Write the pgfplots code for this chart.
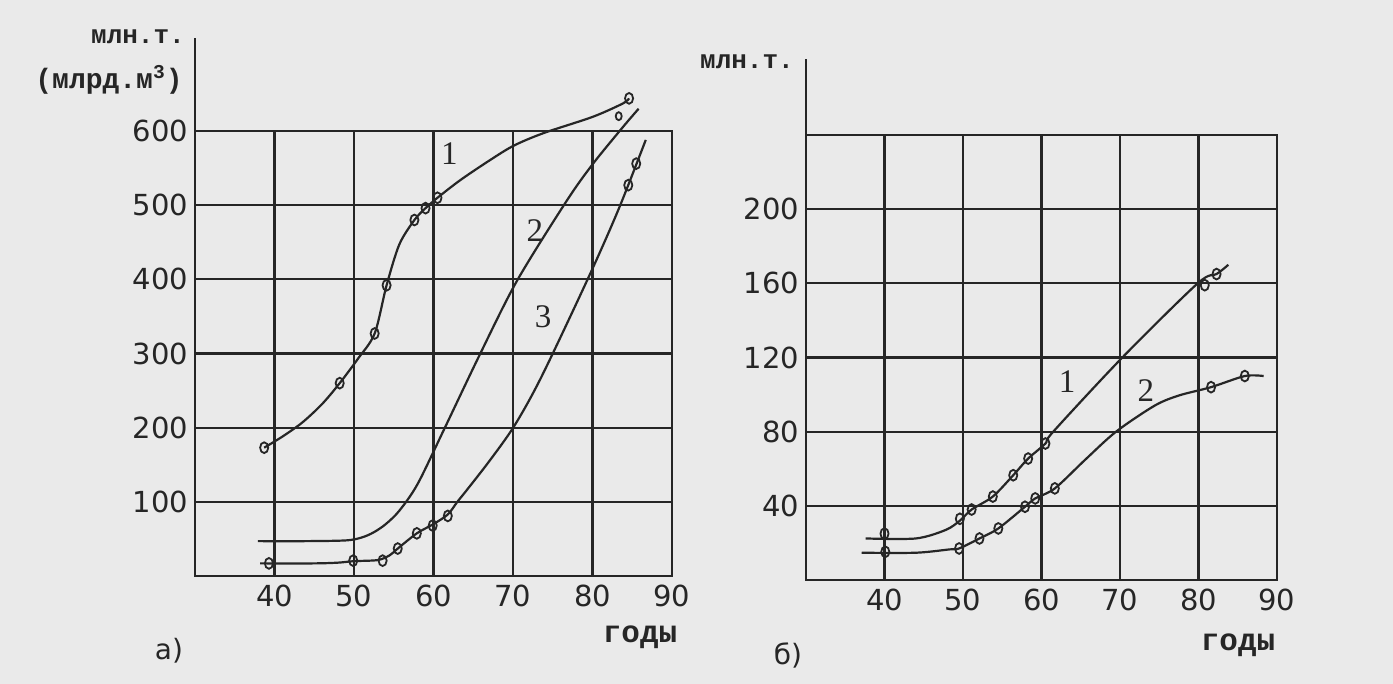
\documentclass[border=0pt]{standalone}
\usepackage{fontspec}
\setmainfont{Liberation Serif}
\newfontfamily\monofam{Liberation Mono}
\newfontfamily\dvfam{DejaVu Sans}
\usepackage{pgfplots}
\pgfplotsset{compat=1.18}
\definecolor{paper}{HTML}{EAEAEA}
\definecolor{ink}{HTML}{262626}
\pgfplotsset{
  chart/.style={
    scale only axis, anchor=south west, clip=false,
    xmin=30, xmax=90, xtick={40,50,60,70,80,90},
    grid=major, major grid style={line width=1.1pt, ink},
    axis line style={line width=1.1pt, ink},
    major tick length=0pt,
    /pgf/number format/assume math mode=true,
    ticklabel style={font=\dvfam\fontsize{14.5}{16}\selectfont, text=ink},
    xticklabel style={yshift=-1pt},
  },
  crv/.style={line width=1.1pt, ink, smooth, tension=0.5, no marks},
  mk/.style={only marks, mark=o, mark size=2.7pt, mark options={line width=0.9pt, ink, fill=paper, xscale=0.75}},
}
\tikzset{lbl/.style={font=\fontsize{16.5}{18}\selectfont, text=ink}}
\begin{document}
\begin{tikzpicture}
\fill[paper] (0,0) rectangle (696.5pt,342pt);
\path[use as bounding box] (0,0) rectangle (696.5pt,342pt);
% ---------------- left chart a)
\begin{axis}[chart, at={(97.5pt,54pt)}, width=238.5pt, height=222.5pt,
  ymin=0, ymax=600, ytick={100,200,300,400,500,600}]
\draw[line width=1.1pt, ink] (axis cs:30,600) -- (axis cs:30,725);
% curve 1
\addplot[crv] coordinates {(38.7,173) (41,188) (43.5,207) (46,232) (48.2,260) (50.5,293) (52.6,327) (54.1,392) (55.7,447) (57.6,480) (59.0,496) (60.5,510) (63.4,534) (67,560) (70.05,580) (73.8,597) (80,619) (83.8,637) (84.6,644)};
\addplot[mk] coordinates {(38.7,173) (48.2,260) (52.6,327) (54.1,392) (57.6,480) (59.0,496) (60.5,510) (84.6,644)};
% curve 2
\addplot[crv] coordinates {(37.9,47) (44,47) (49,48) (51,52) (52.5,59) (54,70) (55.7,88) (58,124) (61.3,197) (65.8,298) (70.5,398) (76.7,505) (80,555) (83.8,605) (85.8,630)};
\addplot[mk, mark size=2pt] coordinates {(83.3,620)};
% curve 3
\addplot[crv] coordinates {(38.2,17) (45,17) (48,18) (50,20) (53,21.5) (54.5,28) (55.5,37) (57.9,57.5) (60,70) (61.8,83) (63,100) (64.2,116) (67.1,156) (70.2,203) (73.6,269) (79.6,405) (83.3,495) (86.7,588)};
\addplot[mk] coordinates {(39.3,17) (49.9,20.7) (53.6,20.7) (55.5,37) (57.9,57.5) (59.9,68) (61.8,81) (84.5,527) (85.5,556)};
\node[lbl] at (axis cs:62,570) {1};
\node[lbl] at (axis cs:72.75,466) {2};
\node[lbl] at (axis cs:73.8,350) {3};
\end{axis}
% ---------------- right chart б)
\begin{axis}[chart, at={(403pt,52pt)}, width=235.5pt, height=222.5pt,
  ymin=0, ymax=240, ytick={40,80,120,160,200}]
\draw[line width=1.1pt, ink] (axis cs:30,240) -- (axis cs:30,281);
% curve 1
\addplot[crv] coordinates {(37.6,22.4) (44,22.4) (47.8,27) (49.6,32) (51.1,38) (53.8,45) (56.4,56.5) (58.3,65.5) (60.5,73.6) (61.5,80) (70.3,120) (79.9,160) (82.3,165) (83.8,170)};
\addplot[mk] coordinates {(40,25) (49.6,33) (51.1,38) (53.8,45) (56.4,56.5) (58.3,65.5) (60.5,73.6) (80.8,159) (82.3,165)};
% curve 2
\addplot[crv] coordinates {(37.1,14.7) (44,14.7) (48.3,16.5) (49.5,17) (52.1,22.4) (54.5,27.8) (57.9,39.5) (59.2,44) (61.7,49.4) (65.6,65) (69.5,80) (74.4,94) (77.5,99.5) (81.6,104) (85.9,110) (88.3,110)};
\addplot[mk] coordinates {(40.1,15.2) (49.5,17) (52.1,22.4) (54.5,27.8) (57.9,39.5) (59.2,44) (61.7,49.4) (81.6,104) (85.9,110)};
\node[lbl] at (axis cs:63.25,107) {1};
\node[lbl] at (axis cs:73.3,102) {2};
\end{axis}
% ---------------- texts
\node[font=\monofam\bfseries\fontsize{13}{15}\selectfont, text=ink] at (69pt,323.5pt) {млн.т.};
\node[font=\monofam\bfseries\fontsize{14}{16}\selectfont, text=ink] at (54.5pt,302pt) {(млрд.м\textsuperscript{3})};
\node[font=\monofam\bfseries\fontsize{15.5}{17}\selectfont, text=ink] at (320pt,23.5pt) {годы};
\node[font=\dvfam\fontsize{14}{16}\selectfont, text=ink] at (84.5pt,16.5pt) {а)};
\node[font=\monofam\bfseries\fontsize{13}{15}\selectfont, text=ink] at (373.5pt,311pt) {млн.т.};
\node[font=\monofam\bfseries\fontsize{15.5}{17}\selectfont, text=ink] at (619pt,19.5pt) {годы};
\node[font=\dvfam\fontsize{14}{16}\selectfont, text=ink] at (394pt,14.5pt) {б)};
\end{tikzpicture}
\end{document}
